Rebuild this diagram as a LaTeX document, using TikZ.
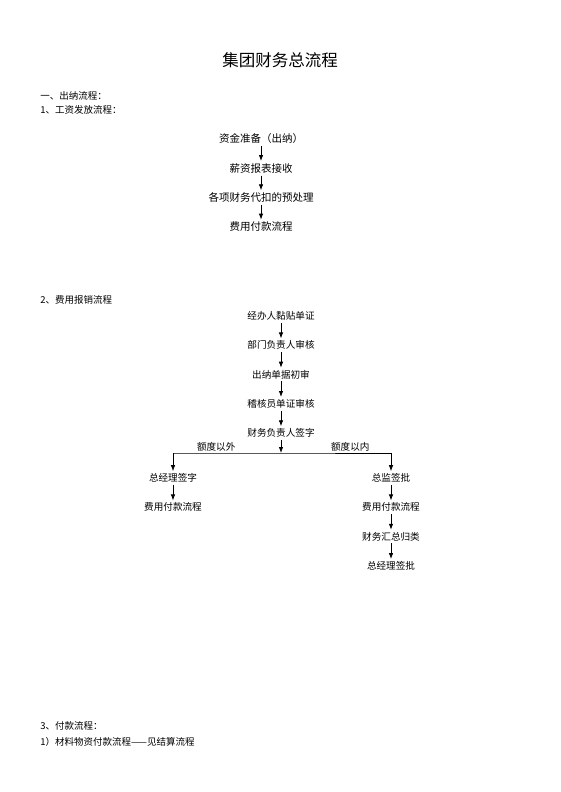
\documentclass[tikz,border=0pt]{standalone}
\usepackage{fontspec}
\setmainfont{Noto Sans CJK SC}
\usetikzlibrary{positioning,arrows.meta}

\begin{document}
\begin{tikzpicture}[x=1pt,y=1pt,node distance=29.3pt,line width=0.8pt,
  >={Latex[length=6pt,width=4.5pt]},
  heading/.style={anchor=west,inner sep=0pt,font=\fontsize{9.5}{11}\selectfont},
  stepa/.style={inner sep=2pt,font=\fontsize{10.5}{12}\selectfont},
  stepb/.style={inner sep=2pt,font=\fontsize{9.6}{11}\selectfont},
  cond/.style={inner sep=1pt,font=\fontsize{9.6}{11}\selectfont}]
  \useasboundingbox (0,0) rectangle (560,-792);

  \node (title) at (280,-60) {\fontsize{16.5}{20}\selectfont 集团财务总流程};
  \node[heading] (cashier) at (40,-96) {一、出纳流程：};
  \node[heading] (salary) at (40,-110) {1、工资发放流程：};

  % salary flow
  \node[stepa] (fund) at (261,-139) {资金准备（出纳）};
  \node[stepa] (sheet) [below of=fund] {薪资报表接收};
  \node[stepa] (deduct) [below of=sheet] {各项财务代扣的预处理};
  \node[stepa] (pay) [below of=deduct] {费用付款流程};

  \path[->] (fund) edge (sheet)
            (sheet) edge (deduct)
            (deduct) edge (pay);

  \node[heading] (expense) at (40,-300) {2、费用报销流程};

  % expense flow
  \node[stepb] (paste) at (281,-316) {经办人黏贴单证};
  \node[stepb] (dept) [below of=paste] {部门负责人审核};
  \node[stepb] (check) [below of=dept] {出纳单据初审};
  \node[stepb] (audit) [below of=check] {稽核员单证审核};
  \node[stepb] (sign) [below of=audit] {财务负责人签字};

  \coordinate (split) at (281,-453);
  \coordinate (lsplit) at (173,-453);
  \coordinate (rsplit) at (391,-453);

  \node[stepb] (gmsign) at (173,-478) {总经理签字};
  \node[stepb] (lpay) [below of=gmsign] {费用付款流程};

  \node[stepb] (cfo) at (391,-478) {总监签批};
  \node[stepb] (rpay) [below of=cfo] {费用付款流程};
  \node[stepb] (sum) [below of=rpay] {财务汇总归类};
  \node[stepb] (gmok) [below of=sum] {总经理签批};

  \path[->] (paste) edge (dept)
            (dept) edge (check)
            (check) edge (audit)
            (audit) edge (sign)
            (sign) edge (split);
  \draw (lsplit) -- node[cond,pos=0.4,above] (outside) {额度以外} (split)
        -- node[cond,pos=0.63,above] (inside) {额度以内} (rsplit);
  \path[->] (lsplit) edge (gmsign)
            (gmsign) edge (lpay)
            (rsplit) edge (cfo)
            (cfo) edge (rpay)
            (rpay) edge (sum)
            (sum) edge (gmok);

  \node[heading] (payment) at (40,-726) {3、付款流程：};
  \node[heading] (material) at (40,-742) {1）材料物资付款流程——见结算流程};
\end{tikzpicture}
\end{document}
